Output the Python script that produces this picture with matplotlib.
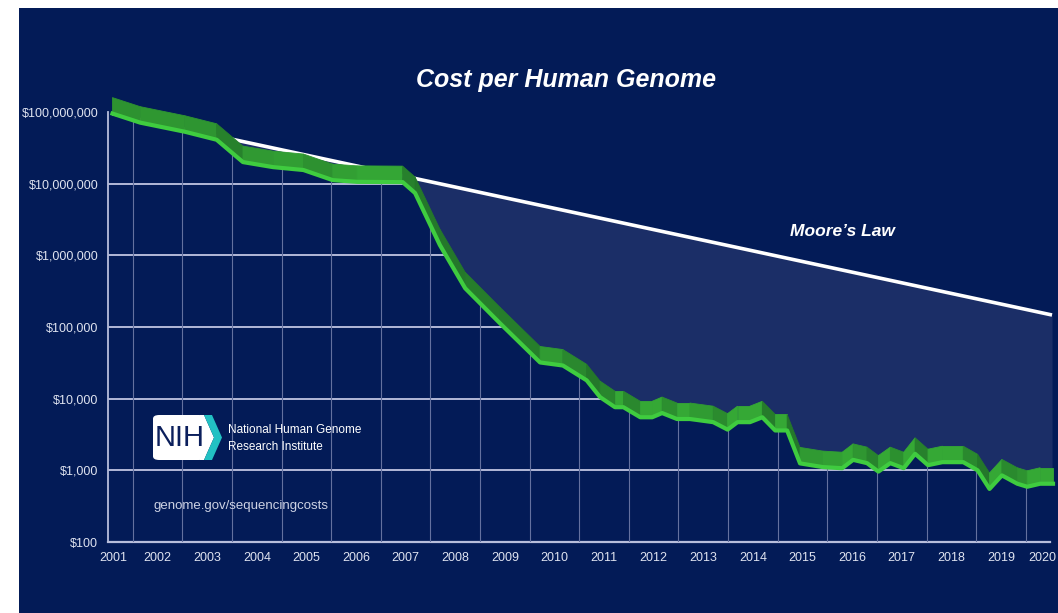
import numpy as np
import matplotlib

matplotlib.use("Agg")
import matplotlib.pyplot as plt
from matplotlib.colors import to_rgb
from matplotlib.patches import FancyBboxPatch, Polygon, Rectangle
from matplotlib.path import Path

cost_year = [2001.09, 2001.65, 2002.55, 2003.19, 2003.72, 2004.33, 2004.94, 2005.53, 2006.02, 2006.94,
             2007.19, 2007.69, 2008.20, 2008.90, 2009.71, 2010.17, 2010.65, 2010.92, 2011.22, 2011.39,
             2011.73, 2011.97, 2012.17, 2012.47, 2012.73, 2013.20, 2013.49, 2013.69, 2013.94, 2014.19,
             2014.45, 2014.69, 2014.95, 2015.41, 2015.80, 2016.02, 2016.30, 2016.53, 2016.77, 2017.04,
             2017.27, 2017.53, 2017.82, 2018.24, 2018.53, 2018.77, 2019.02, 2019.33, 2019.53, 2019.79,
             2020.05]
cost_usd = [95e6, 71e6, 53e6, 41e6, 20e6, 17e6, 15.5e6, 11.2e6, 10.6e6, 10.5e6,
            7.4e6, 1.39e6, 347e3, 113e3, 32e3, 29e3, 18e3, 10.5e3, 7.6e3, 7.6e3,
            5.5e3, 5.5e3, 6.3e3, 5.2e3, 5.2e3, 4.7e3, 3.7e3, 4.7e3, 4.7e3, 5.5e3,
            3.6e3, 3.6e3, 1.25e3, 1.11e3, 1.07e3, 1.4e3, 1.26e3, 960, 1.26e3, 1.07e3,
            1.7e3, 1.18e3, 1.3e3, 1.3e3, 1.0e3, 550, 850, 650, 590, 650,
            650]

moore_year = [2001.09, 2020.03]
moore_usd = [95e6, 147e3]

year_ticks = list(range(2001, 2021))
cost_ticks = [1e2, 1e3, 1e4, 1e5, 1e6, 1e7, 1e8]
cost_labels = ["$100", "$1,000", "$10,000", "$100,000", "$1,000,000", "$10,000,000", "$100,000,000"]

W, H = 1058, 613
BG = "#031b57"
FILL = "#1b2e67"
GRID = "#b3b9d8"
SANS = ["Liberation Sans", "DejaVu Sans"]


def fx(x):
    return x / W


def fy(y):
    return 1 - y / H


fig = plt.figure(figsize=(W / 100, H / 100), dpi=100, facecolor="white")
fig.patches.append(Rectangle((fx(19), 0), 1 - fx(19), fy(8), transform=fig.transFigure,
                             facecolor=BG, edgecolor="none", zorder=-5))

ax = fig.add_axes([fx(108), fy(542), fx(1056) - fx(108), fy(8) - fy(542)])
ax.set_zorder(1)
ax.set_facecolor("none")
ax.set_yscale("log")
ax.set_xlim(2001.0, 2020.11)
ax.set_ylim(1e2, 10 ** 9.451)

x = np.array(cost_year)
y = np.array(cost_usd)

# light region under Moore's law, then restore dark navy under the cost curve
ax.fill_between(moore_year, moore_usd, 1e2, color=FILL, lw=0, zorder=1)
ax.fill_between(x, y, 1e2, color=BG, lw=0, zorder=2)

# gridlines only show beneath the curve
verts = [(2001.0, 1e2), (2001.0, y[0])] + list(zip(x, y)) + [(x[-1], 1e2)]
clip = Path(verts)
hl = ax.hlines(cost_ticks[1:-1], 2001.0, 2020.11, colors=GRID, lw=1.4, zorder=3)
vl = ax.vlines(np.array(year_ticks[:-1]) + 0.5, 1e2, 1e8, colors="#64719f", lw=0.8, zorder=3)
for coll in (hl, vl):
    coll.set_clip_path(clip, ax.transData)

ax.plot(moore_year, moore_usd, color="white", lw=2.6, solid_capstyle="butt", zorder=4)

# 3d-looking ribbon: segments raised by a fixed factor in log space
k = 10 ** 0.223
light = np.array(to_rgb("#35a835"))
dark = np.array(to_rgb("#24782a"))
for i in range(len(x) - 1):
    s = (np.log10(y[i + 1]) - np.log10(y[i])) * 71.7 / ((x[i + 1] - x[i]) * 49.6)
    t = np.clip(-s / 1.2, 0, 1) ** 0.6
    c = light * (1 - t) + dark * t
    quad = [(x[i], y[i]), (x[i + 1], y[i + 1]), (x[i + 1], y[i + 1] * k), (x[i], y[i] * k)]
    ax.add_patch(Polygon(quad, closed=True, facecolor=c, edgecolor=c, lw=0.6, zorder=5))
ax.plot(x, y, color="#3fcc3f", lw=3.0, solid_joinstyle="round", zorder=6)

for side in ("top", "right"):
    ax.spines[side].set_visible(False)
ax.spines["left"].set_bounds(1e2, 1e8)
ax.spines["left"].set_color("#b8bedc")
ax.spines["left"].set_linewidth(1.3)
ax.spines["bottom"].set_bounds(2001.0, 2019.98)
ax.spines["bottom"].set_color("#b8bedc")
ax.spines["bottom"].set_linewidth(1.6)

# first and last year labels sit nudged inwards, as on the slide
tick_pos = [v + (0.1 if v == 2001 else -0.17 if v == 2020 else 0.0) for v in year_ticks]
ax.set_xticks(tick_pos)
ax.set_xticklabels([str(v) for v in year_ticks])
ax.set_yticks(cost_ticks)
ax.set_yticklabels(cost_labels)
ax.yaxis.set_minor_locator(matplotlib.ticker.NullLocator())
ax.tick_params(length=0, colors="#dfe3f0", labelsize=9)
ax.tick_params(axis="x", pad=7)
ax.tick_params(axis="y", pad=7)
for lab in ax.get_xticklabels() + ax.get_yticklabels():
    lab.set_family(SANS)

fig.text(fx(566), fy(80), "Cost per Human Genome", ha="center", va="center", color="white",
         fontsize=18, fontweight="bold", fontstyle="italic", family=SANS)
fig.text(fx(842), fy(232), "Moore\u2019s Law", ha="center", va="center", color="white",
         fontsize=12.5, fontweight="bold", fontstyle="italic", family=SANS)

# NIH logo block
fig.patches.append(FancyBboxPatch((fx(153), fy(460)), fx(205) - fx(153), fy(415) - fy(460),
                                  boxstyle="round,pad=0,rounding_size=0.006", transform=fig.transFigure,
                                  facecolor="white", edgecolor="none", zorder=5))
fig.patches.append(Polygon([(fx(200), fy(415)), (fx(204), fy(415)), (fx(214), fy(437.5)),
                            (fx(204), fy(460)), (fx(200), fy(460))], closed=True,
                           transform=fig.transFigure, facecolor="white", edgecolor="none", zorder=5))
fig.patches.append(Polygon([(fx(204), fy(415)), (fx(212), fy(415)), (fx(222), fy(437.5)),
                            (fx(212), fy(460)), (fx(204), fy(460)), (fx(214), fy(437.5))], closed=True,
                           transform=fig.transFigure, facecolor="#22c1c3", edgecolor="none", zorder=5))
fig.text(fx(180), fy(438), "NIH", ha="center", va="center", color="#0b1f5c", fontsize=21,
         family=SANS, zorder=6)
fig.text(fx(228), fy(430), "National Human Genome", ha="left", va="center", color="white",
         fontsize=8.5, family=SANS)
fig.text(fx(228), fy(447), "Research Institute", ha="left", va="center", color="white",
         fontsize=8.5, family=SANS)
fig.text(fx(153), fy(506), "genome.gov/sequencingcosts", ha="left", va="center", color="#cdd2e4",
         fontsize=9.5, family=SANS)

fig.savefig("out.png", dpi=100, facecolor="white")
